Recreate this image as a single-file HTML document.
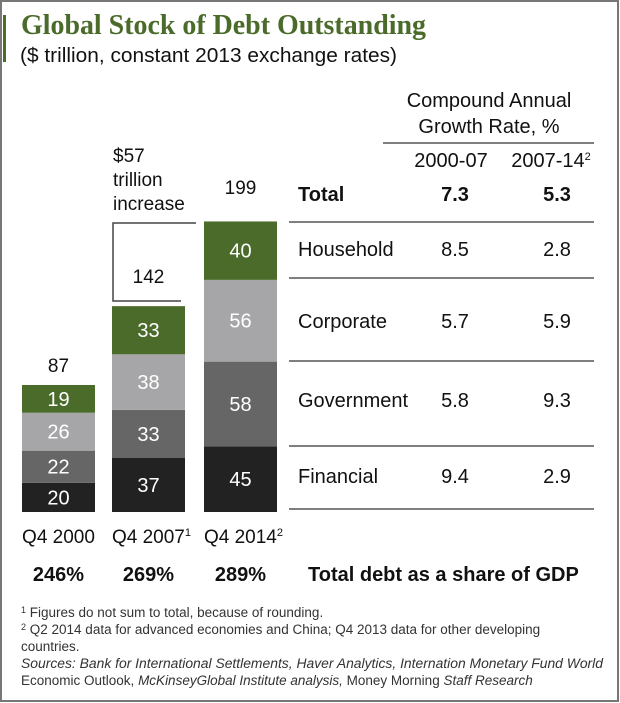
<!DOCTYPE html>
<html><head><meta charset="utf-8"><style>
body{margin:0;background:#fff}
svg{display:block;font-family:"Liberation Sans",sans-serif}
</style></head><body>
<svg width="620" height="703" viewBox="0 0 620 703">
<rect x="1" y="1" width="617" height="700" fill="#fff" stroke="#777" stroke-width="2"/>
<rect x="3" y="15" width="3" height="47" fill="#4a6b2a"/>
<text x="21" y="34" font-family="Liberation Serif,serif" font-size="29" font-weight="bold" fill="#4a6b2a" textLength="405" lengthAdjust="spacingAndGlyphs">Global Stock of Debt Outstanding</text>
<text x="20" y="62" font-size="20" fill="#111" textLength="377" lengthAdjust="spacingAndGlyphs">($ trillion, constant 2013 exchange rates)</text>
<g id="bars"></g>
<g id="table" font-size="20" fill="#111"></g>
<text x="113" y="162" font-size="19" fill="#111">$57</text>
<text x="113" y="186" font-size="19" fill="#111">trillion</text>
<text x="113" y="210" font-size="19" fill="#111">increase</text>
<polyline points="196,223 113,223 113,301 181,301" fill="none" stroke="#444" stroke-width="1.5"/>
<g font-size="13.5" fill="#333">
<text x="21" y="617"><tspan font-size="9" dy="-4">1</tspan><tspan dy="4"> Figures do not sum to total, because of rounding.</tspan></text>
<text x="21" y="634"><tspan font-size="9" dy="-4">2</tspan><tspan dy="4"> Q2 2014 data for advanced economies and China; Q4 2013 data for other developing</tspan></text>
<text x="21" y="651">countries.</text>
<text x="21" y="668" font-style="italic" textLength="582" lengthAdjust="spacingAndGlyphs">Sources: Bank for International Settlements, Haver Analytics, Internation Monetary Fund World</text>
<text x="21" y="685">Economic Outlook, <tspan font-style="italic">McKinseyGlobal Institute analysis,</tspan> Money Morning <tspan font-style="italic">Staff Research</tspan></text>
</g>
</svg>
<script>
const categories=["Q4 2000","Q4 2007","Q4 2014"];
const catSup=["","1","2"];
const financial=[20,37,45];
const government=[22,33,58];
const corporate=[26,38,56];
const household=[19,33,40];
const totals=[87,142,199];
const gdpShare=["246%","269%","289%"];
const rowLabels=["Total","Household","Corporate","Government","Financial"];
const cagr0007=["7.3","8.5","5.7","5.8","9.4"];
const cagr0714=["5.3","2.8","5.9","9.3","2.9"];
const NS="http://www.w3.org/2000/svg";
const baseY=512, scale=1.46, barW=73;
const barX=i=>[22,112,204][i];
const y=v=>baseY-v*scale;
function mk(tag,attrs,parent){const e=document.createElementNS(NS,tag);for(const k in attrs)e.setAttribute(k,attrs[k]);parent.appendChild(e);return e;}
const bars=document.getElementById('bars');
const series=[[financial,"#222222","financial"],[government,"#666666","government"],[corporate,"#a6a6a8","corporate"],[household,"#4a6b2a","household"]];
categories.forEach((c,i)=>{
  let cum=0;
  series.forEach(([arr,col,nm])=>{
    const v=arr[i];
    const r=mk('rect',{x:barX(i),y:y(cum+v),width:barW,height:v*scale,fill:col},bars);
    
    
    const t=mk('text',{x:barX(i)+barW/2,y:y(cum+v/2)+7,'text-anchor':'middle','font-size':20,fill:'#fff'},bars);
    t.textContent=v;
    
    
    cum+=v;
  });
  const top=y(totals[i]);
  const tt=mk('text',{x:barX(i)+barW/2,y:(i==0?top-13:(i==1?283:194)),'text-anchor':'middle','font-size':19,fill:'#111'},bars);
  tt.textContent=totals[i];
  
  
  const cl=mk('text',{x:barX(i)+barW/2+(i?3:0),y:543,'text-anchor':'middle','font-size':19,fill:'#111'},bars);
  cl.textContent=c;
  if(catSup[i]){const s=mk('tspan',{'font-size':11,dy:-7},cl);s.textContent=catSup[i];}
  
  
  const g=mk('text',{x:barX(i)+barW/2,y:581,'text-anchor':'middle','font-size':20,'font-weight':'bold',fill:'#111'},bars);
  g.textContent=gdpShare[i];
  
  
});
const gl=mk('text',{x:308,y:581,'font-size':20,'font-weight':'bold',fill:'#111'},bars);
gl.textContent="Total debt as a share of GDP";


const tb=document.getElementById('table');
[["Compound Annual",107],["Growth Rate, %",133]].forEach(([s,yy])=>{
  const t=mk('text',{x:489,y:yy,'text-anchor':'middle'},tb);t.textContent=s;
  
  
});
const h1=mk('text',{x:451,y:167,'text-anchor':'middle'},tb);h1.textContent="2000-07";


const h2=mk('text',{x:551,y:167,'text-anchor':'middle'},tb);h2.textContent="2007-14";
const hs=mk('tspan',{'font-size':11,dy:-7},h2);hs.textContent="2";


[[383,143],[289,222],[289,278],[289,361],[289,446],[289,509]].forEach(([x1,yy])=>{
  const l=mk('line',{x1:x1,x2:594,y1:yy,y2:yy,stroke:'#555','stroke-width':1.5},tb);
  
  
});
const rowY=[201,256,328,407,483];
rowLabels.forEach((r,i)=>{
  const b=i==0?{'font-weight':'bold'}:{};
  const a=mk('text',Object.assign({x:298,y:rowY[i]},b),tb);a.textContent=r;
  
  
  const c1=mk('text',Object.assign({x:455,y:rowY[i],'text-anchor':'middle'},b),tb);c1.textContent=cagr0007[i];
  
  
  const c2=mk('text',Object.assign({x:557,y:rowY[i],'text-anchor':'middle'},b),tb);c2.textContent=cagr0714[i];
  
  
});
</script>
</body></html>
